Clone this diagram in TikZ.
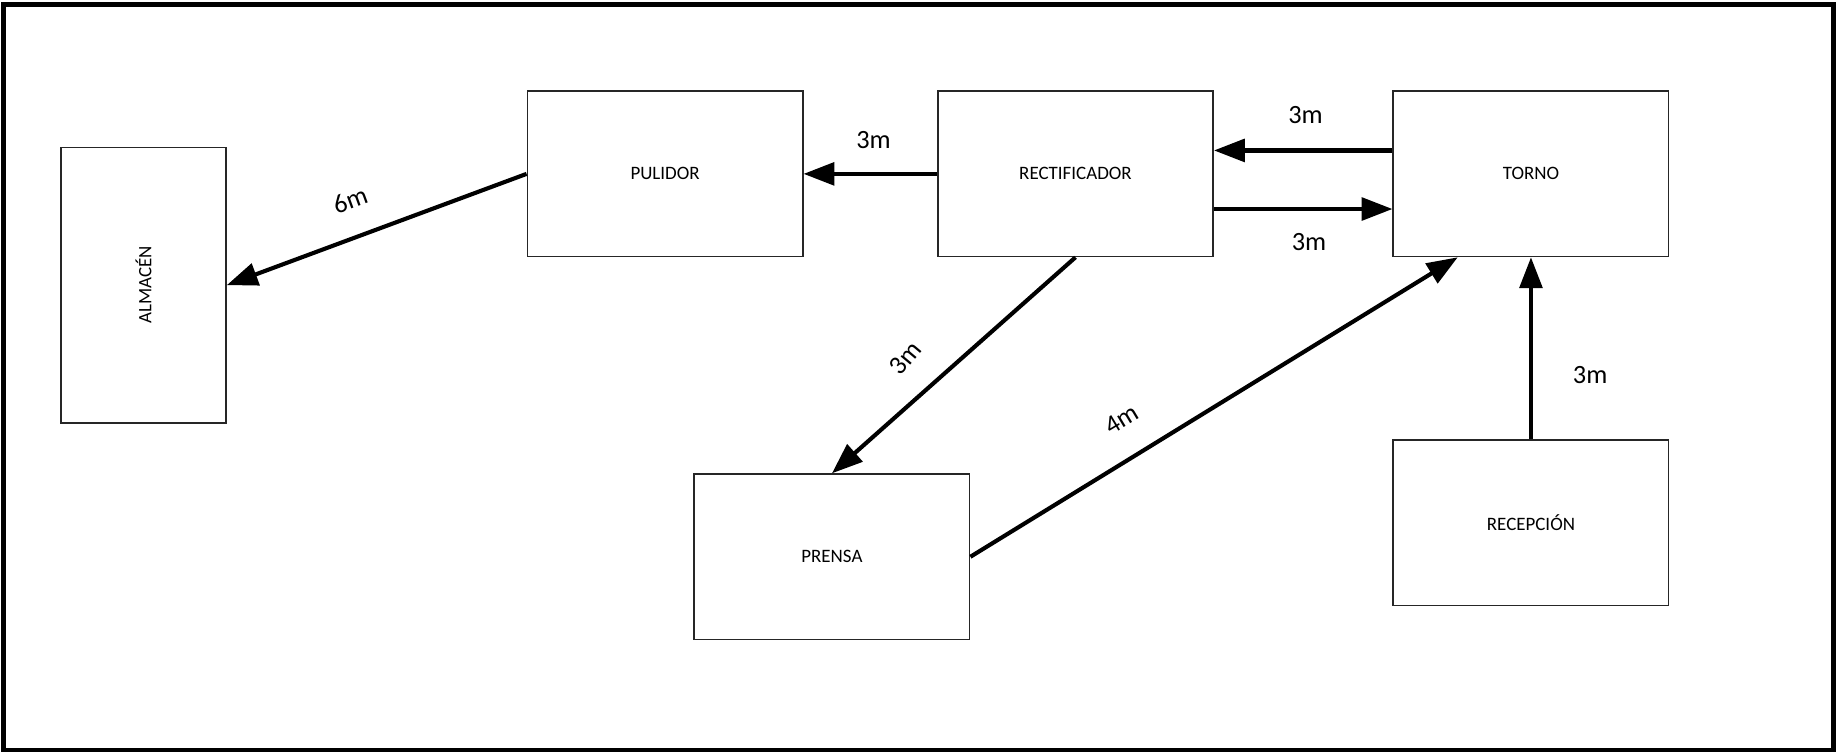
\documentclass[tikz,border=0pt]{standalone}
\usepackage{fontspec}
\setmainfont{Carlito}
\usetikzlibrary{arrows.meta}
\tikzset{
  box/.style={draw=black!85, line width=0.4pt, rectangle, minimum width=2.35cm, minimum height=1.41cm, inner sep=0pt, font=\fontsize{4.6}{5}\selectfont},
  vbox/.style={box, minimum width=1.41cm, minimum height=2.35cm},
  boxlbl/.style={font=\fontsize{4.6}{5}\selectfont, inner sep=0pt},
  flow/.style={line width=1pt, -{Triangle[length=7.5pt,width=5.5pt]}},
  dist/.style={font=\fontsize{6.4}{7}\selectfont, inner sep=0pt}
}
\begin{document}
\begin{tikzpicture}[x=0.01cm,y=-0.01cm]
\useasboundingbox (0,0) rectangle (1568,643);
\draw[line width=1.1pt] (3,4) rectangle (1566,640.5);
% boxes
\node[vbox] (alm) at (122.5,243.5) {};
\node[boxlbl, rotate=90] (almt) at (alm.center) {ALMACÉN};
\node[box] (pul) at (568,148.5) {PULIDOR};
\node[box] (rect) at (918.5,148.5) {RECTIFICADOR};
\node[box] (tor) at (1307.5,148.5) {TORNO};
\node[box] (pre) at (710.5,475.5) {PRENSA};
\node[box] (rec) at (1307.5,446.5) {RECEPCIÓN};
% connectors
\draw[flow] (pul.west) -- (alm.east);
\draw[flow] (rect.west) -- (pul.east);
\draw[flow] ([yshift=0.2cm]tor.west) -- ([yshift=0.2cm]rect.east);
\draw[flow] ([yshift=-0.3cm]rect.east) -- ([yshift=-0.3cm]tor.west);
\draw[flow] (rect.south) -- (pre.north);
\draw[flow] (pre.east) -- ([xshift=-0.625cm]tor.south);
\draw[flow] (rec.north) -- (tor.south);
% distance labels
\node[dist, rotate=20] (l1) at (299,171) {6m};
\node[dist] (l2) at (746,120) {3m};
\node[dist] (l3) at (1115,98) {3m};
\node[dist] (l4) at (1118,207) {3m};
\node[dist, rotate=50] (l5) at (773,306) {3m};
\node[dist, rotate=31] (l6) at (958,358) {4m};
\node[dist] (l7) at (1358,320) {3m};
\end{tikzpicture}
\end{document}
